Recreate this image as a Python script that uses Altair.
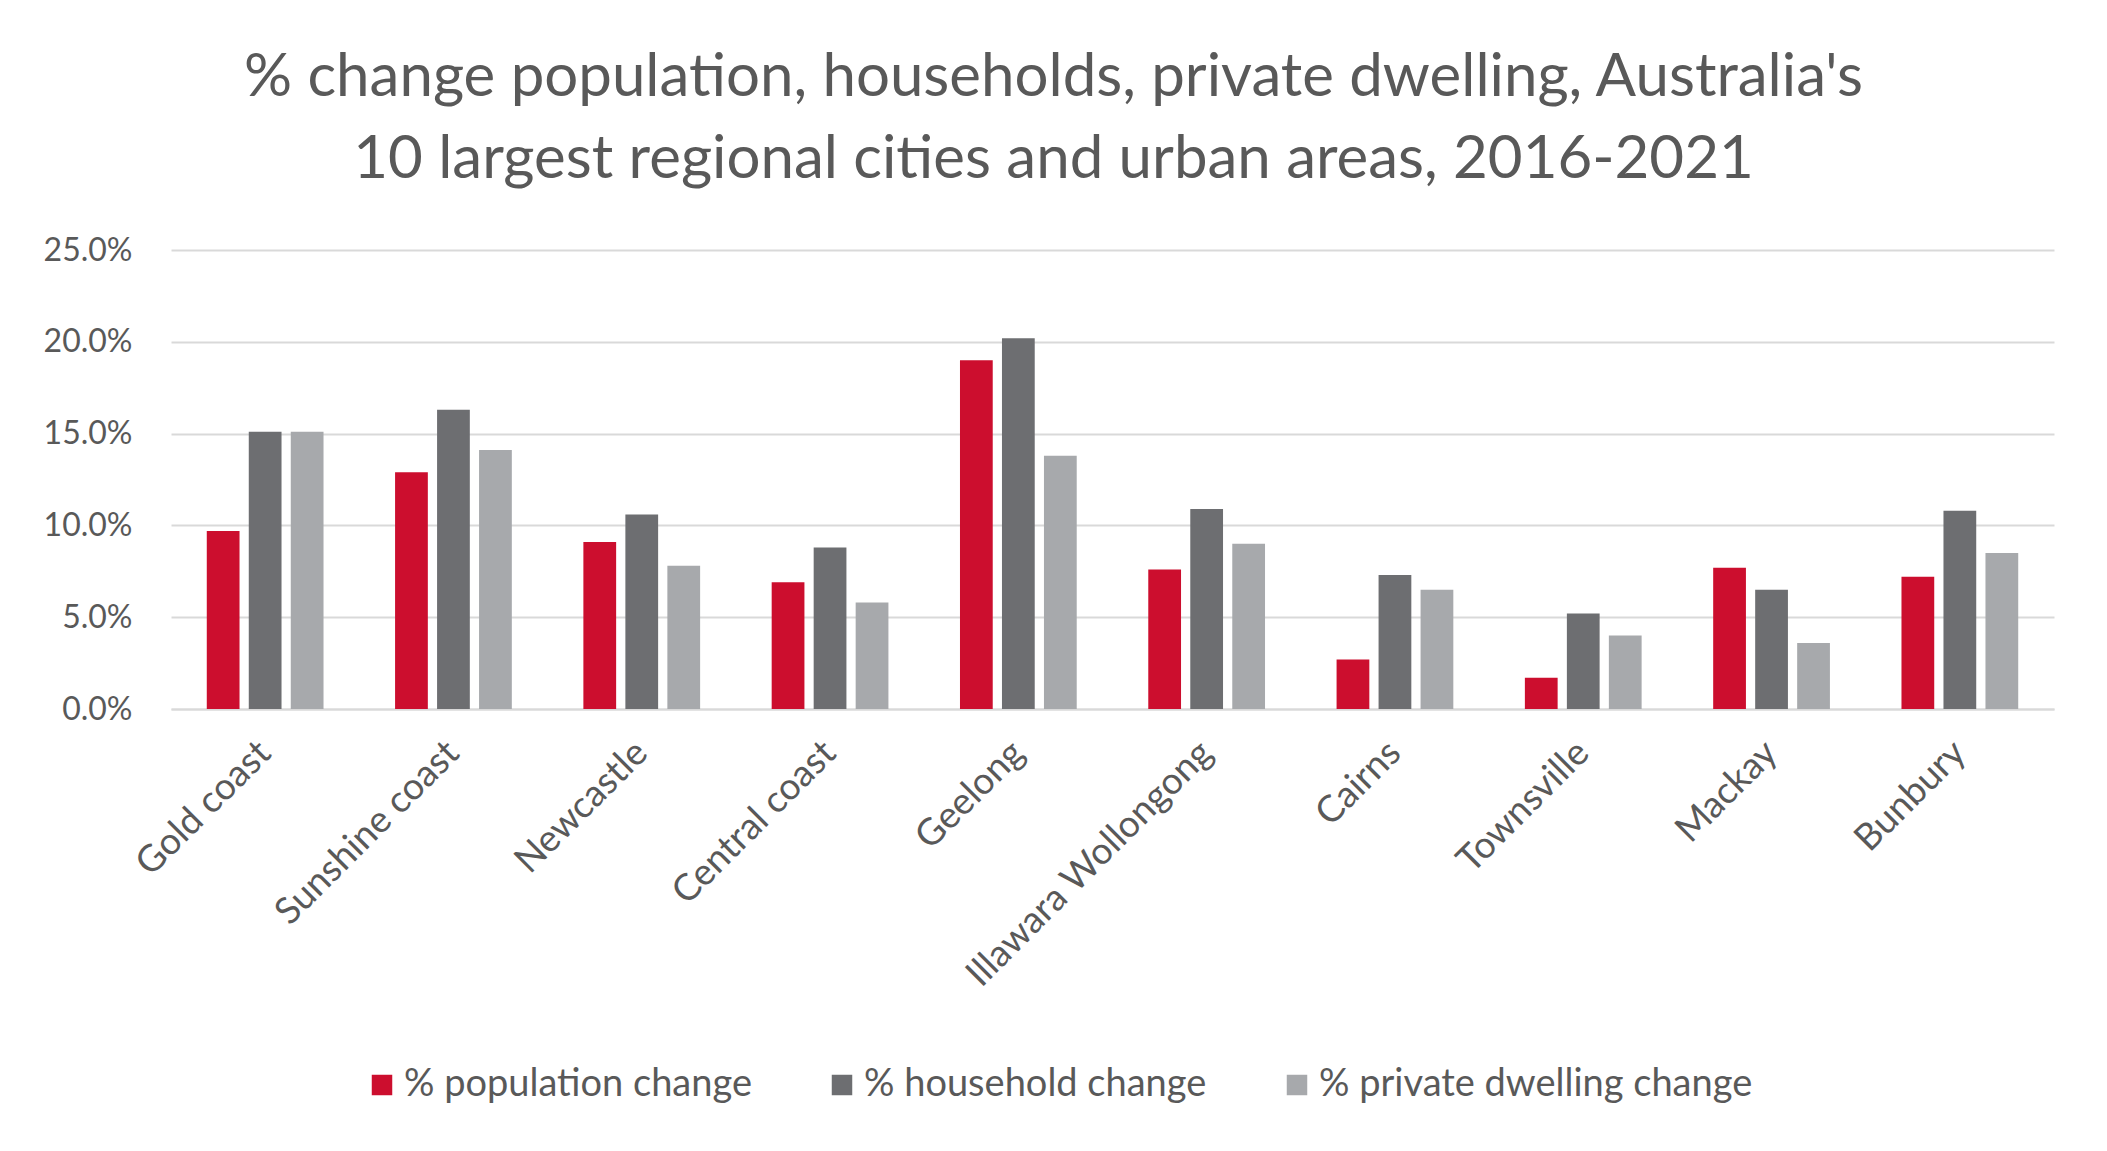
import altair as alt
import pandas as pd

cities = ["Gold coast", "Sunshine coast", "Newcastle", "Central coast", "Geelong",
          "Illawara Wollongong", "Cairns", "Townsville", "Mackay", "Bunbury"]
series = ["% population change", "% household change", "% private dwelling change"]
population = [9.7, 12.9, 9.1, 6.9, 19.0, 7.6, 2.7, 1.7, 7.7, 7.2]
household = [15.1, 16.3, 10.6, 8.8, 20.2, 10.9, 7.3, 5.2, 6.5, 10.8]
dwelling = [15.1, 14.1, 7.8, 5.8, 13.8, 9.0, 6.5, 4.0, 3.6, 8.5]
colors = ["#CC0E2E", "#6D6E71", "#A7A9AC"]
y_ticks = [0, 0.05, 0.10, 0.15, 0.20, 0.25]

rows = []
for s, vals in zip(series, [population, household, dwelling]):
    for c, v in zip(cities, vals):
        rows.append({"city": c, "series": s, "value": v / 100})
df = pd.DataFrame(rows)

TEXT = "#595959"
FONT = "Lato"

chart = alt.Chart(df).mark_bar().encode(
    x=alt.X("city:N", sort=cities, title=None,
            scale=alt.Scale(paddingInner=0.38, paddingOuter=0.19),
            axis=alt.Axis(labelAngle=-45, labelAlign="right", labelBaseline="middle",
                          labelPadding=38, labelFontSize=37, labelColor=TEXT,
                          labelLimit=0, ticks=False, domainColor="#D9D9D9",
                          domainWidth=2, grid=False)),
    xOffset=alt.XOffset("series:N", sort=series,
                        scale=alt.Scale(paddingInner=0.22, paddingOuter=0)),
    y=alt.Y("value:Q", title=None, scale=alt.Scale(domain=[0, 0.25]),
            axis=alt.Axis(format=".1%", values=y_ticks, domain=False, ticks=False,
                          gridColor="#D9D9D9", gridWidth=2, labelPadding=39,
                          labelFontSize=32, labelColor=TEXT)),
    color=alt.Color("series:N", sort=series,
                    scale=alt.Scale(domain=series, range=colors),
                    legend=alt.Legend(title=None, orient="none", direction="horizontal",
                                      legendX=192, legendY=816, symbolType="square",
                                      symbolSize=420, symbolStrokeWidth=0,
                                      labelFontSize=38, labelColor=TEXT, labelLimit=0,
                                      labelOffset=3, columnPadding=71)),
).properties(
    width=1883, height=459,
    title=alt.Title(
        ["% change population, households, private dwelling, Australia's",
         "10 largest regional cities and urban areas, 2016-2021"],
        fontSize=60, color=TEXT, font=FONT, fontWeight="normal",
        anchor="middle", dx=-59, offset=43, lineHeight=82),
    autosize=alt.AutoSizeParams(type="none"),
    padding={"left": 171, "top": 250, "right": 53, "bottom": 442},
).configure(font=FONT).configure_view(stroke=None)

chart.save("out.html", embed_options={"renderer": "svg", "actions": False})
